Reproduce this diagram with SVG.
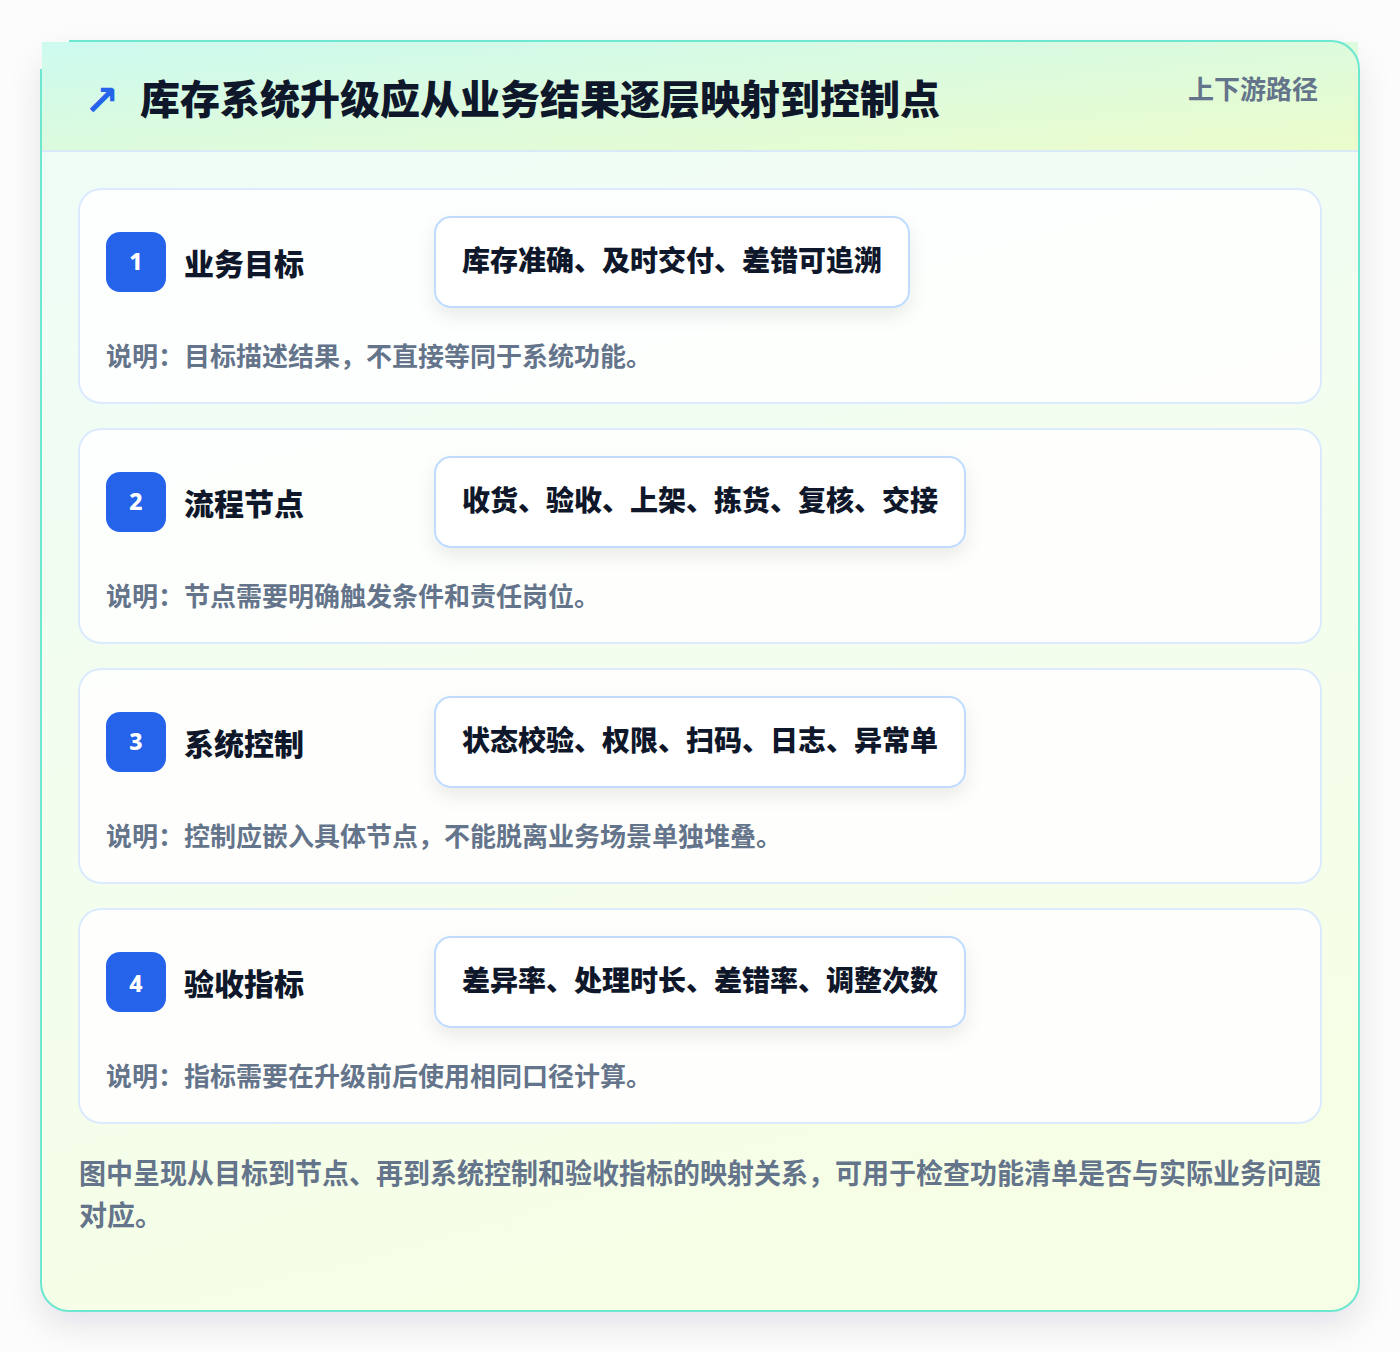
<svg xmlns="http://www.w3.org/2000/svg" width="1400" height="1352" viewBox="0 0 1400 1352">
<defs>
<linearGradient id="hdr" x1="0" y1="0" x2="1" y2="1">
<stop offset="0" stop-color="#cdfaf0"/>
<stop offset="1" stop-color="#ecfccb"/>
</linearGradient>
<linearGradient id="body" x1="0" y1="0" x2="0.3" y2="1">
<stop offset="0" stop-color="#effdf9"/>
<stop offset="1" stop-color="#f6fee6"/>
</linearGradient>
<filter id="cardShadow" x="-10%" y="-10%" width="120%" height="125%">
<feDropShadow dx="0" dy="14" stdDeviation="16" flood-color="#0f172a" flood-opacity="0.10"/>
</filter>
<filter id="pillShadow" x="-10%" y="-30%" width="120%" height="170%">
<feDropShadow dx="0" dy="8" stdDeviation="9" flood-color="#0f172a" flood-opacity="0.08"/>
</filter>
<style>
.cjk{font-family:"Noto Sans CJK SC","Noto Sans",sans-serif;}
.title{font-size:40px;font-weight:800;fill:#0f172a;}
.tag{font-size:26px;font-weight:700;fill:#64748b;}
.card{fill:#ffffff;fill-opacity:0.85;stroke:#dbeafe;stroke-width:2;}
.badge{fill:#2563eb;}
.num{font-family:"Noto Sans","Liberation Sans",sans-serif;font-size:23px;font-weight:800;fill:#ffffff;}
.label{font-size:30px;font-weight:800;fill:#0f172a;}
.pill{fill:#ffffff;stroke:#bfdbfe;stroke-width:2;}
.pilltext{font-size:28px;font-weight:800;fill:#0f172a;}
.desc{font-size:26px;font-weight:700;fill:#64748b;}
.foot{font-size:28px;font-weight:700;fill:#64748b;}
</style>
</defs>
<rect x="0" y="0" width="1400" height="1352" fill="#fcfcfc"/>
<g id="frame">
<rect x="41" y="41" width="1318" height="1270" rx="28" fill="url(#body)" filter="url(#cardShadow)"/>
<rect x="42" y="42" width="1316" height="109" fill="url(#hdr)"/>
<line x1="42" y1="151" x2="1358" y2="151" stroke="#d9e9f7" stroke-width="2"/>
<path d="M69 41 H1331 A28 28 0 0 1 1359 69 V1283 A28 28 0 0 1 1331 1311 H69 A28 28 0 0 1 41 1283 V69" fill="none" stroke="#6ee7d0" stroke-width="2"/>
</g>
<g id="header">
<text x="84" y="115" font-family="DejaVu Sans,sans-serif" font-size="42" font-weight="700" fill="#2563eb">↗</text>
<text class="cjk title" x="140" y="114">库存系统升级应从业务结果逐层映射到控制点</text>
<text class="cjk tag" x="1318" y="99" text-anchor="end">上下游路径</text>
</g>
<g id="node1">
<rect class="card" x="79" y="189" width="1242" height="214" rx="22"/>
<rect class="badge" x="106" y="232" width="60" height="60" rx="14"/>
<text class="num" x="136" y="270" text-anchor="middle">1</text>
<text class="cjk label" x="184" y="275">业务目标</text>
<rect class="pill" x="435" y="217" width="474" height="90" rx="16" filter="url(#pillShadow)"/>
<text class="cjk pilltext" x="462" y="271">库存准确、及时交付、差错可追溯</text>
<text class="cjk desc" x="106" y="366">说明：目标描述结果，不直接等同于系统功能。</text>
</g>
<g id="node2">
<rect class="card" x="79" y="429" width="1242" height="214" rx="22"/>
<rect class="badge" x="106" y="472" width="60" height="60" rx="14"/>
<text class="num" x="136" y="510" text-anchor="middle">2</text>
<text class="cjk label" x="184" y="515">流程节点</text>
<rect class="pill" x="435" y="457" width="530" height="90" rx="16" filter="url(#pillShadow)"/>
<text class="cjk pilltext" x="462" y="511">收货、验收、上架、拣货、复核、交接</text>
<text class="cjk desc" x="106" y="606">说明：节点需要明确触发条件和责任岗位。</text>
</g>
<g id="node3">
<rect class="card" x="79" y="669" width="1242" height="214" rx="22"/>
<rect class="badge" x="106" y="712" width="60" height="60" rx="14"/>
<text class="num" x="136" y="750" text-anchor="middle">3</text>
<text class="cjk label" x="184" y="755">系统控制</text>
<rect class="pill" x="435" y="697" width="530" height="90" rx="16" filter="url(#pillShadow)"/>
<text class="cjk pilltext" x="462" y="751">状态校验、权限、扫码、日志、异常单</text>
<text class="cjk desc" x="106" y="846">说明：控制应嵌入具体节点，不能脱离业务场景单独堆叠。</text>
</g>
<g id="node4">
<rect class="card" x="79" y="909" width="1242" height="214" rx="22"/>
<rect class="badge" x="106" y="952" width="60" height="60" rx="14"/>
<text class="num" x="136" y="992" text-anchor="middle">4</text>
<text class="cjk label" x="184" y="995">验收指标</text>
<rect class="pill" x="435" y="937" width="530" height="90" rx="16" filter="url(#pillShadow)"/>
<text class="cjk pilltext" x="462" y="991">差异率、处理时长、差错率、调整次数</text>
<text class="cjk desc" x="106" y="1086">说明：指标需要在升级前后使用相同口径计算。</text>
</g>
<g id="connectors"></g>
<g id="footer">
<text class="cjk foot" x="79" y="1184" textLength="1242" lengthAdjust="spacingAndGlyphs">图中呈现从目标到节点、再到系统控制和验收指标的映射关系，可用于检查功能清单是否与实际业务问题</text>
<text class="cjk foot" x="79" y="1226">对应。</text>
</g>
</svg>
